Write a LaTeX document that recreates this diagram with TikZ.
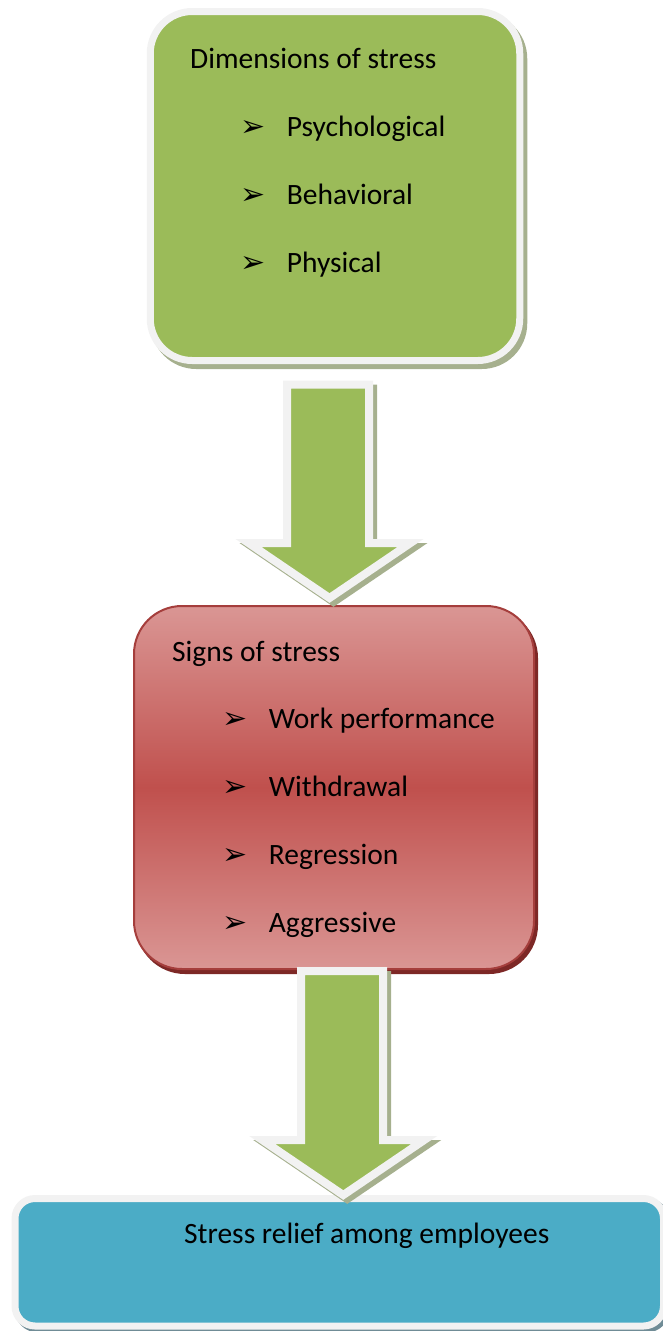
\documentclass[tikz,border=0pt]{standalone}
\usepackage{fontspec}
\setmainfont{Carlito}
\newfontfamily\dingfont{DejaVu Sans}
\usetikzlibrary{calc,shadows}

\definecolor{boxgreen}{RGB}{155,187,89}
\definecolor{framegrey}{RGB}{242,242,242}
\definecolor{greenshadow}{RGB}{166,176,142}
\definecolor{redlight}{RGB}{218,150,148}
\definecolor{redmid}{RGB}{192,80,77}
\definecolor{redline}{RGB}{165,62,60}
\definecolor{redshadow}{RGB}{125,40,38}
\definecolor{boxblue}{RGB}{75,172,198}
\definecolor{blueshadow}{RGB}{112,140,150}

\newcommand{\tick}{\makebox[46.7pt][l]{\fontsize{30}{30}\dingfont ➢}}
% block arrow: top of shaft, tip
\newcommand{\blockarrow}[2]{%
  \draw[bigarrow] let \p1=(#1), \p2=(#2) in
    ({\x1-41pt},\y1) -- ({\x1+41pt},\y1) -- ({\x1+41pt},{\y2+55pt})
    -- ({\x2+81pt},{\y2+55pt}) -- (\p2) -- ({\x2-81pt},{\y2+55pt})
    -- ({\x1-41pt},{\y2+55pt}) -- cycle;}

\tikzset{
  txt/.style={anchor=base west,inner sep=0pt,font=\fontsize{29.5}{34}\selectfont},
  greenbox/.style={draw=framegrey,line width=7pt,fill=boxgreen,inner sep=0pt,
    rounded corners=42pt,
    general shadow={draw=greenshadow,fill=greenshadow,line width=7pt,
      shadow xshift=4pt,shadow yshift=-5pt}},
  redbox/.style={draw=redline,line width=2pt,inner sep=0pt,rounded corners=48pt,
    top color=redlight,bottom color=redlight,middle color=redmid,
    general shadow={draw=redshadow,fill=redshadow,line width=2pt,
      shadow xshift=3pt,shadow yshift=-4pt}},
  bluebox/.style={draw=framegrey,line width=7pt,fill=boxblue,inner sep=0pt,
    rounded corners=20pt,
    general shadow={draw=blueshadow,fill=blueshadow,line width=7pt,
      shadow xshift=3pt,shadow yshift=-3pt}},
  bigarrow/.style={draw=framegrey,line width=8pt,fill=boxgreen,line join=miter,
    general shadow={draw=greenshadow,fill=greenshadow,line width=8pt,
      shadow xshift=4pt,shadow yshift=-4pt}}
}

\begin{document}
\begin{tikzpicture}[x=1pt,y=-1pt]
  \useasboundingbox (0,0) rectangle (662,1331);

  % boxes
  \node[greenbox,minimum width=369.5pt,minimum height=349pt] (dims) at (335,186) {};
  \node[redbox,minimum width=400pt,minimum height=363pt] (signs) at (334,787.5) {};
  \node[bluebox,minimum width=648.5pt,minimum height=127.5pt] (relief) at (339.25,1262.25) {};

  % texts
  \node[txt] (dimstitle) at (190,68) {Dimensions of stress};
  \node[txt] (psy) at (240,136.5) {\tick Psychological};
  \node[txt] (beh) at (240,204.5) {\tick Behavioral};
  \node[txt] (phy) at (240,272.5) {\tick Physical};

  \node[txt] (signstitle) at (172,661.5) {Signs of stress};
  \node[txt] (work) at (222,728.5) {\tick Work performance};
  \node[txt] (withd) at (222,796.5) {\tick Withdrawal};
  \node[txt] (regr) at (222,864.5) {\tick Regression};
  \node[txt] (aggr) at (222,932.5) {\tick Aggressive};

  \node[txt] (relieftitle) at (184,1243) {Stress relief among employees};

  % arrows
  \blockarrow{$(dims.south)+(-7,20.5)$}{$(signs.north)+(-4.5,-7)$}
  \blockarrow{$(signs.south)+(8,1)$}{$(relief.north)+(4,0)$}
\end{tikzpicture}
\end{document}
